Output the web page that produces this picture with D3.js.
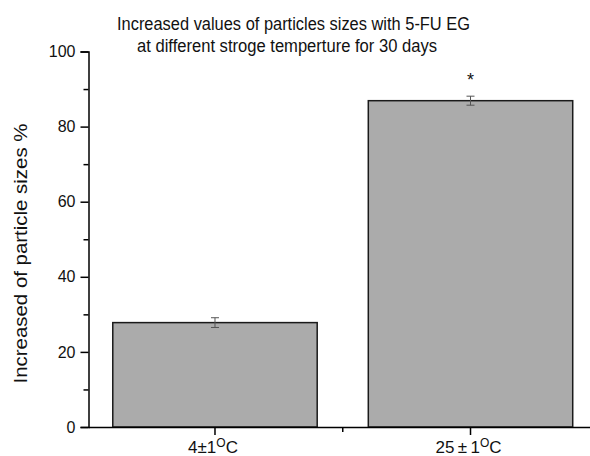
<!DOCTYPE html>
<html>
<head>
<meta charset="utf-8">
<script src="https://cdn.jsdelivr.net/npm/d3@7"></script>
<style>
  body { margin: 0; background: #fff; }
  text { font-family: "Liberation Sans", Arial, sans-serif; fill: #111; }
</style>
</head>
<body>
<div id="chart"></div>
<script>
// data
const categories = ["4±1", "25\u2009±\u20091"];
const values = [27.8, 86.9];
const errors = [1.3, 1.2];
const significant = [false, true];
const yTicks = [0, 20, 40, 60, 80, 100];
const yMinorTicks = [10, 30, 50, 70, 90];
const titleLines = [
  "Increased values of particles sizes with 5-FU EG",
  "at different stroge temperture for 30 days"
];

const W = 590, H = 456;
const margin = {top: 51.5, right: -7, bottom: 29, left: 88.5};
const width = W - margin.left - margin.right,
      height = H - margin.top - margin.bottom;

const svg = d3.select("#chart").append("svg")
  .attr("width", W).attr("height", H);

const g = svg.append("g")
  .attr("transform", `translate(${margin.left},${margin.top})`);

const x = d3.scaleBand()
  .domain(categories)
  .range([0, width])
  .paddingInner(0.2)
  .paddingOuter(0.095);

const y = d3.scaleLinear().domain([0, 100]).range([height, 0]);

// bars
g.selectAll(".bar")
  .data(values)
  .enter().append("rect")
  .attr("x", (d, i) => x(categories[i]))
  .attr("y", d => y(d))
  .attr("width", x.bandwidth())
  .attr("height", d => height - y(d))
  .attr("fill", "#ababab")
  .attr("stroke", "#1a1a1a")
  .attr("stroke-width", 1.5);

// error bars
const cx = i => x(categories[i]) + x.bandwidth() / 2;
const err = g.selectAll(".err").data(values).enter().append("g")
  .attr("stroke", "#555").attr("stroke-width", 1);
err.append("line")
  .attr("x1", (d, i) => cx(i)).attr("x2", (d, i) => cx(i))
  .attr("y1", (d, i) => y(d + errors[i])).attr("y2", (d, i) => y(d - errors[i]));
err.append("line")
  .attr("x1", (d, i) => cx(i) - 4).attr("x2", (d, i) => cx(i) + 4)
  .attr("y1", (d, i) => y(d + errors[i])).attr("y2", (d, i) => y(d + errors[i]));
err.append("line")
  .attr("x1", (d, i) => cx(i) - 4).attr("x2", (d, i) => cx(i) + 4)
  .attr("y1", (d, i) => y(d - errors[i])).attr("y2", (d, i) => y(d - errors[i]));

// significance star
g.selectAll(".star")
  .data(categories.map((c, i) => i).filter(i => significant[i]))
  .enter().append("text")
  .attr("x", i => cx(i))
  .attr("y", i => y(values[i] + errors[i]) - 10)
  .attr("text-anchor", "middle")
  .style("font-size", "18px")
  .text("*");

// y axis
const yAxis = g.append("g")
  .call(d3.axisLeft(y).tickValues(yTicks).tickSize(8).tickPadding(5));
yAxis.selectAll("text").style("font-size", "16px");
yAxis.select(".domain").attr("stroke-width", 1.5);
yAxis.selectAll(".tick line").attr("stroke-width", 1.5);
g.append("g")
  .call(d3.axisLeft(y).tickValues(yMinorTicks).tickSize(5).tickFormat(""))
  .call(a => a.select(".domain").remove())
  .selectAll(".tick line").attr("stroke-width", 1.5);

// x axis
const xAxis = g.append("g")
  .attr("transform", `translate(0,${height})`)
  .call(d3.axisBottom(x).tickSize(8).tickSizeOuter(0).tickFormat(""));
xAxis.select(".domain").attr("stroke-width", 1.5);
xAxis.selectAll(".tick line").attr("stroke-width", 1.5);
// minor x tick between categories
const mid = (cx(0) + cx(1)) / 2;
g.append("line")
  .attr("x1", mid).attr("x2", mid)
  .attr("y1", height).attr("y2", height + 5)
  .attr("stroke", "#000").attr("stroke-width", 1.5);

// category labels with superscript O
const lbl = g.selectAll(".xlabel").data(categories).enter().append("text")
  .attr("x", (d, i) => cx(i) - 2)
  .attr("y", height + 25.5)
  .attr("text-anchor", "middle")
  .style("font-size", "17px");
lbl.append("tspan").text(d => d);
lbl.append("tspan").attr("dy", -6).style("font-size", "12px").text("O");
lbl.append("tspan").attr("dy", 6).text("C");

// y label
svg.append("text")
  .attr("transform", "translate(27,253.5) rotate(-90)")
  .attr("text-anchor", "middle")
  .attr("textLength", 260)
  .attr("lengthAdjust", "spacingAndGlyphs")
  .style("font-size", "19px")
  .text("Increased of particle sizes %");

// title
svg.selectAll(".title").data(titleLines).enter().append("text")
  .attr("x", (d, i) => [293.5, 287][i])
  .attr("y", (d, i) => [30, 51.5][i])
  .attr("text-anchor", "middle")
  .attr("textLength", (d, i) => [353, 300][i])
  .attr("lengthAdjust", "spacingAndGlyphs")
  .style("font-size", "17.5px")
  .text(d => d);
</script>
</body>
</html>
